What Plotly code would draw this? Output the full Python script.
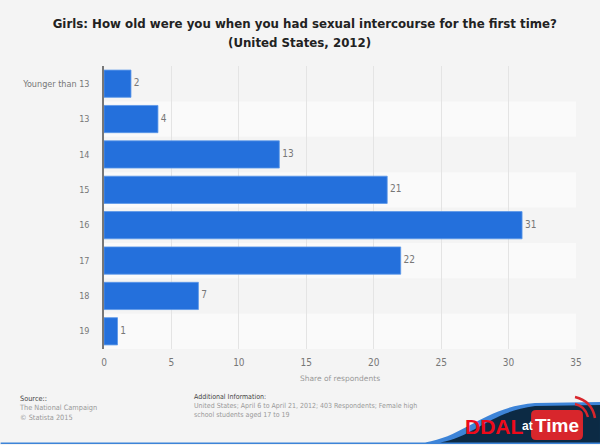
import plotly.graph_objects as go

ages = ['Younger than 13', '13', '14', '15', '16', '17', '18', '19']
shares = [2, 4, 13, 21, 31, 22, 7, 1]
x_ticks = [0, 5, 10, 15, 20, 25, 30, 35]

title_top = '<b>Girls: How old were you when you had sexual intercourse for the first time?</b>'
title_bottom = '<b>(United States, 2012)</b>'
source_text = ('<span style="color:#444">Source::</span><br>'
               'The National Campaign<br>© Statista 2015')
info_text = ('<span style="color:#444">Additional Information:</span><br>'
             'United States; April 6 to April 21, 2012; 403 Respondents; Female high<br>'
             'school students aged 17 to 19')

LEFT, RIGHT, TOP, BOTTOM = 103.5, 576, 66, 349
narrow = 'DejaVu Sans Condensed'


# footer decoration is placed in page pixels
def pt(x, y):
    return f'{(x - LEFT) / (RIGHT - LEFT):.4f} {(BOTTOM - y) / (BOTTOM - TOP):.4f}'


def page_text(text, x, y, **kw):
    anchor = kw.pop('xanchor', 'left')
    yanchor = kw.pop('yanchor', 'top')
    fig.add_annotation(text=text, xref='paper', yref='paper',
                       x=(x - LEFT) / (RIGHT - LEFT), y=(BOTTOM - y) / (BOTTOM - TOP),
                       xanchor=anchor, yanchor=yanchor, align='left', showarrow=False,
                       borderpad=0, font=kw['font'])


fig = go.Figure()
fig.add_trace(go.Bar(y=ages, x=shares, orientation='h', width=0.77,
                     marker=dict(color='#2470dc', line=dict(color='#5b97e8', width=0.8))))
fig.add_trace(go.Scatter(y=ages, x=shares, mode='text', text=shares, textposition='middle right',
                         texttemplate='\u00a0%{text}', cliponaxis=False,
                         textfont=dict(family=narrow, size=10, color='#777777')))

# lighter stripes behind every second row
for i in range(1, len(ages), 2):
    fig.add_shape(type='rect', xref='paper', yref='y', x0=0, x1=1, y0=i - 0.5, y1=i + 0.5,
                  fillcolor='#fafafa', line_width=0, layer='below')

# bottom border and corner swoosh
fig.add_shape(type='path', xref='paper', yref='paper', line_width=0, fillcolor='#3d84d8',
              path=f'M {pt(0, 442.5)} L {pt(425, 442.5)} C {pt(465, 436)} {pt(485, 407)} {pt(535, 403)} '
                   f'L {pt(600, 402)} L {pt(600, 444)} L {pt(0, 444)} Z')
fig.add_shape(type='path', xref='paper', yref='paper', line_width=0, fillcolor='#0c2a44',
              path=f'M {pt(440, 442.5)} C {pt(475, 436)} {pt(490, 412)} {pt(535, 406)} '
                   f'L {pt(600, 405)} L {pt(600, 442.5)} Z')
# red badge and signal arcs
fig.add_shape(type='path', xref='paper', yref='paper', line_width=0, fillcolor='#d8262c',
              path=f'M {pt(536, 410)} L {pt(578, 410)} Q {pt(583, 410)} {pt(583, 415)} L {pt(583, 435)} '
                   f'Q {pt(583, 440)} {pt(578, 440)} L {pt(536, 440)} Q {pt(531, 440)} {pt(531, 435)} '
                   f'L {pt(531, 415)} Q {pt(531, 410)} {pt(536, 410)} Z')
fig.add_shape(type='path', xref='paper', yref='paper', line=dict(color='#d8262c', width=2.5),
              path=f'M {pt(575, 404)} Q {pt(585, 406)} {pt(588, 417)}')
fig.add_shape(type='path', xref='paper', yref='paper', line=dict(color='#d8262c', width=2.5),
              path=f'M {pt(575, 397)} Q {pt(592, 401)} {pt(595, 418)}')

page_text(title_bottom, 299.5, 43, xanchor='center', yanchor='middle',
          font=dict(family='DejaVu Sans', size=11.8, color='#222222'))
page_text(source_text, 17, 393, font=dict(family=narrow, size=7.3, color='#999999'))
page_text(info_text, 193, 392, font=dict(family=narrow, size=7, color='#999999'))
page_text('<b>at</b>', 521, 426, yanchor='middle',
          font=dict(family='Liberation Sans', size=12, color='#ffffff'))
page_text('<b>DDAL</b>', 464, 426, yanchor='middle',
          font=dict(family='Liberation Sans', size=21, color='#ee0a1a'))
page_text('<b>Time</b>', 557, 425, xanchor='center', yanchor='middle',
          font=dict(family='Liberation Sans', size=19, color='#ffffff'))

fig.update_layout(
    width=600, height=445, showlegend=False,
    paper_bgcolor='#f4f4f4', plot_bgcolor='#f4f4f4',
    margin=dict(l=LEFT, r=600 - RIGHT, t=TOP, b=445 - BOTTOM),
    font=dict(family=narrow, color='#777777'),
    title=dict(text=title_top, x=0.508, xanchor='center', y=0.946, yanchor='middle',
               font=dict(family='DejaVu Sans', size=11.8, color='#222222')),
    xaxis=dict(range=[0, 35], tickvals=x_ticks, showgrid=True, gridcolor='#e4e4e4', gridwidth=1,
               zeroline=False, ticks='outside', ticklen=4, tickcolor='rgba(0,0,0,0)',
               tickfont=dict(size=10, color='#777777'),
               title=dict(text='Share of respondents', standoff=8,
                          font=dict(family='DejaVu Sans', size=7.5, color='#999999'))),
    yaxis=dict(categoryorder='array', categoryarray=ages, autorange='reversed',
               showline=True, linecolor='#777777', linewidth=1.5, showgrid=False,
               ticks='', ticklabelstandoff=11, tickfont=dict(size=9, color='#777777')),
)

fig.write_html("out.html", config={'displayModeBar': False},
               post_script="document.body.style.margin='0';")
